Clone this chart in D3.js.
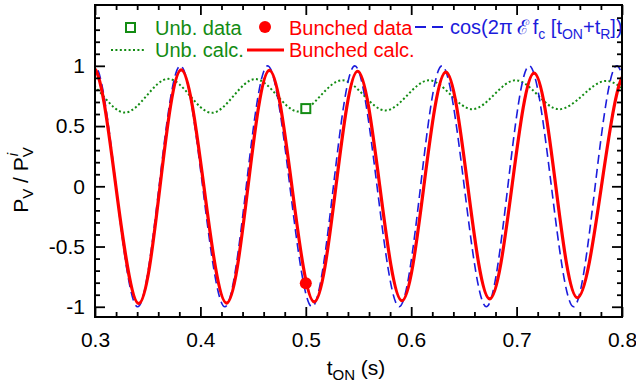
<!DOCTYPE html>
<html>
<head>
<meta charset="utf-8">
<script src="https://cdn.jsdelivr.net/npm/d3@7"></script>
<style>
  body { margin: 0; background: #fff; }
  svg { display: block; }
  text { font-family: "Liberation Sans", Arial, Helvetica, sans-serif; }
</style>
</head>
<body>
<svg width="636" height="392"></svg>
<script>
var width = 636, height = 392;

// bunched calc. (red solid) - peaks, zero crossings, troughs
// (a few points past both ends so the spline has no edge effect inside the frame)
var calcT = [0.2575, 0.2776, 0.2981, 0.3198, 0.3415, 0.3617, 0.3818, 0.4033, 0.4248, 0.4452,
             0.4655, 0.4868, 0.5080, 0.5286, 0.5492, 0.5702, 0.5912, 0.6120, 0.6329, 0.6537,
             0.6745, 0.6956, 0.7166, 0.7372, 0.7577, 0.7805, 0.8035, 0.8240, 0.8450];
var calcV = [-0.975, 0, 0.98, 0, -0.973, 0, 0.967, 0, -0.97, 0,
             0.963, 0, -0.96, 0, 0.955, 0, -0.95, 0, 0.947, 0,
             -0.935, 0, 0.94, 0, -0.925, 0, 0.93, 0, -0.92];

// cos(2 pi E fc [tON + tR]) (blue dashed)
var cosT = [0.2578, 0.2789, 0.2992, 0.3199, 0.3405, 0.3608, 0.3810, 0.4021, 0.4232, 0.4435,
            0.4638, 0.4849, 0.5059, 0.5262, 0.5465, 0.5676, 0.5886, 0.6089, 0.6292, 0.6503,
            0.6713, 0.6917, 0.7120, 0.7330, 0.7540, 0.7745, 0.7955, 0.8160, 0.8370];
var cosV = [-1, 0, 1, 0, -1, 0, 1, 0, -1, 0,
            1, 0, -1, 0, 1, 0, -1, 0, 1, 0,
            -1, 0, 1, 0, -1, 0, 1, 0, -1];

// unbunched calc. (green dotted)
var unbT = [0.2460, 0.2666, 0.2872, 0.3078, 0.3284, 0.3490, 0.3696, 0.3902, 0.4108, 0.4314,
            0.4520, 0.4726, 0.4932, 0.5138, 0.5344, 0.5550, 0.5756, 0.5962, 0.6168, 0.6374,
            0.6580, 0.6786, 0.6992, 0.7198, 0.7404, 0.7630, 0.7850, 0.8070, 0.8280, 0.8490];
var unbV = [0.61, 0.75, 0.89, 0.75, 0.612, 0.752, 0.892, 0.751, 0.61, 0.75,
            0.89, 0.755, 0.62, 0.75, 0.88, 0.755, 0.63, 0.755, 0.88, 0.76,
            0.64, 0.76, 0.88, 0.76, 0.64, 0.758, 0.875, 0.76, 0.64, 0.76];

// measured points
var unbDataT = [0.5], unbDataV = [0.645];
var bunDataT = [0.5], bunDataV = [-0.805];

var xMajor = [0.3, 0.4, 0.5, 0.6, 0.7, 0.8];
var yMajor = [-1, -0.5, 0, 0.5, 1];
var yLabels = ["-1", "-0.5", "0", "0.5", "1"];

var red = "#ff0000", blue = "#1c1cdc", green = "#138c13";

var x = d3.scaleLinear().domain([0.3, 0.8]).range([95, 622]);
var y = d3.scaleLinear().domain([-1.085, 1.505]).range([317, 5]);

var xMinor = d3.range(15, 41).filter(i => i % 5 != 0).map(i => i / 50);
var yMinor = d3.range(-10, 16).filter(i => i % 5 != 0).map(i => i / 10);

var svg = d3.select("svg").attr("viewBox", [0, 0, width, height]);

svg.append("defs").append("clipPath").attr("id", "plot")
  .append("rect")
  .attr("x", x.range()[0]).attr("y", y.range()[1])
  .attr("width", x.range()[1] - x.range()[0])
  .attr("height", y.range()[0] - y.range()[1]);

var line = d3.line()
  .x(d => x(d[0]))
  .y(d => y(d[1]))
  .curve(d3.curveNatural);

var plot = svg.append("g").attr("clip-path", "url(#plot)");

plot.append("path")
  .datum(d3.zip(unbT, unbV))
  .attr("fill", "none")
  .attr("stroke", green)
  .attr("stroke-width", 2)
  .attr("stroke-dasharray", "2,2.4")
  .attr("d", line);

plot.append("path")
  .datum(d3.zip(cosT, cosV))
  .attr("fill", "none")
  .attr("stroke", blue)
  .attr("stroke-width", 1.6)
  .attr("stroke-dasharray", "9,5")
  .attr("d", line);

plot.append("path")
  .datum(d3.zip(calcT, calcV))
  .attr("fill", "none")
  .attr("stroke", red)
  .attr("stroke-width", 3.2)
  .attr("d", line);

// data points
svg.selectAll(".unb-pt")
  .data(d3.zip(unbDataT, unbDataV))
  .join("rect")
  .attr("class", "unb-pt")
  .attr("x", d => x(d[0]) - 4.5)
  .attr("y", d => y(d[1]) - 4.5)
  .attr("width", 9).attr("height", 9)
  .attr("fill", "white")
  .attr("stroke", green)
  .attr("stroke-width", 2);

svg.selectAll(".bun-pt")
  .data(d3.zip(bunDataT, bunDataV))
  .join("circle")
  .attr("class", "bun-pt")
  .attr("cx", d => x(d[0]))
  .attr("cy", d => y(d[1]))
  .attr("r", 6)
  .attr("fill", red);

// axes, ticks inside on all four sides
function styleAxis(g) {
  g.select(".domain").remove();
  g.selectAll(".tick line").attr("stroke", "#000").attr("stroke-width", 1.8);
  g.selectAll("text").attr("fill", "#000")
    .style("font-family", "'Liberation Sans', Arial, sans-serif")
    .style("font-size", "21px");
}

svg.append("g")
  .attr("transform", "translate(0,317)")
  .call(d3.axisBottom(x).tickValues(xMajor).tickSize(-10).tickPadding(15).tickFormat(d3.format(".1f")))
  .call(styleAxis);
svg.append("g")
  .attr("transform", "translate(0,317)")
  .call(d3.axisBottom(x).tickValues(xMinor).tickSize(-5).tickFormat(""))
  .call(styleAxis);
svg.append("g")
  .attr("transform", "translate(0,5)")
  .call(d3.axisTop(x).tickValues(xMajor).tickSize(-10).tickFormat(""))
  .call(styleAxis);
svg.append("g")
  .attr("transform", "translate(0,5)")
  .call(d3.axisTop(x).tickValues(xMinor).tickSize(-5).tickFormat(""))
  .call(styleAxis);

svg.append("g")
  .attr("transform", "translate(95,0)")
  .call(d3.axisLeft(y).tickValues(yMajor).tickSize(-10).tickPadding(10)
    .tickFormat((d, i) => yLabels[i]))
  .call(styleAxis);
svg.append("g")
  .attr("transform", "translate(95,0)")
  .call(d3.axisLeft(y).tickValues(yMinor).tickSize(-5).tickFormat(""))
  .call(styleAxis);
svg.append("g")
  .attr("transform", "translate(622,0)")
  .call(d3.axisRight(y).tickValues(yMajor).tickSize(-10).tickFormat(""))
  .call(styleAxis);
svg.append("g")
  .attr("transform", "translate(622,0)")
  .call(d3.axisRight(y).tickValues(yMinor).tickSize(-5).tickFormat(""))
  .call(styleAxis);

// frame
svg.append("rect")
  .attr("x", 95).attr("y", 5)
  .attr("width", 527).attr("height", 312)
  .attr("fill", "none")
  .attr("stroke", "#000")
  .attr("stroke-width", 2);

// axis titles
var xt = svg.append("text")
  .attr("x", 356).attr("y", 375)
  .attr("text-anchor", "middle")
  .style("font-size", "21px");
xt.append("tspan").text("t");
xt.append("tspan").attr("dy", 5).style("font-size", "15px").text("ON");
xt.append("tspan").attr("dy", -5).text(" (s)");

var yt = svg.append("text")
  .attr("transform", "translate(28,180) rotate(-90)")
  .attr("text-anchor", "middle")
  .style("font-size", "21px");
yt.append("tspan").text("P");
yt.append("tspan").attr("dy", 5).style("font-size", "15px").text("V");
yt.append("tspan").attr("dy", -5).text(" / P");
yt.append("tspan").attr("dy", 5).style("font-size", "15px").text("V");
yt.append("tspan").attr("dx", -9).attr("dy", -15).style("font-size", "15px")
  .style("font-style", "italic").text("i");

// legend
var lg = svg.append("g").style("font-size", "20px");

lg.append("rect").attr("x", 126).attr("y", 23).attr("width", 9).attr("height", 9)
  .attr("fill", "white").attr("stroke", green).attr("stroke-width", 2);
lg.append("text").attr("x", 155).attr("y", 35).attr("fill", green).text("Unb. data");

lg.append("line").attr("x1", 111).attr("x2", 146).attr("y1", 50).attr("y2", 50)
  .attr("stroke", green).attr("stroke-width", 2).attr("stroke-dasharray", "2,2.4");
lg.append("text").attr("x", 155).attr("y", 57).attr("fill", green).text("Unb. calc.");

lg.append("circle").attr("cx", 265).attr("cy", 27).attr("r", 6).attr("fill", red);
lg.append("text").attr("x", 289).attr("y", 35).attr("fill", red).text("Bunched data");

lg.append("line").attr("x1", 247).attr("x2", 284).attr("y1", 50).attr("y2", 50)
  .attr("stroke", red).attr("stroke-width", 3.2);
lg.append("text").attr("x", 289).attr("y", 57).attr("fill", red).text("Bunched calc.");

lg.append("line").attr("x1", 415).attr("x2", 444).attr("y1", 27).attr("y2", 27)
  .attr("stroke", blue).attr("stroke-width", 1.8).attr("stroke-dasharray", "11,6");
var ft = lg.append("text").attr("x", 450).attr("y", 34).attr("fill", blue);
ft.append("tspan").text("cos(2\u03c0\u2009");
ft.append("tspan").text("\u2130");
ft.append("tspan").text("\u2009f");
ft.append("tspan").attr("dy", 5).style("font-size", "14px").text("c");
ft.append("tspan").attr("dy", -5).text(" [t");
ft.append("tspan").attr("dy", 5).style("font-size", "14px").text("ON");
ft.append("tspan").attr("dy", -5).text("+t");
ft.append("tspan").attr("dy", 5).style("font-size", "14px").text("R");
ft.append("tspan").attr("dy", -5).text("])");
</script>
</body>
</html>
